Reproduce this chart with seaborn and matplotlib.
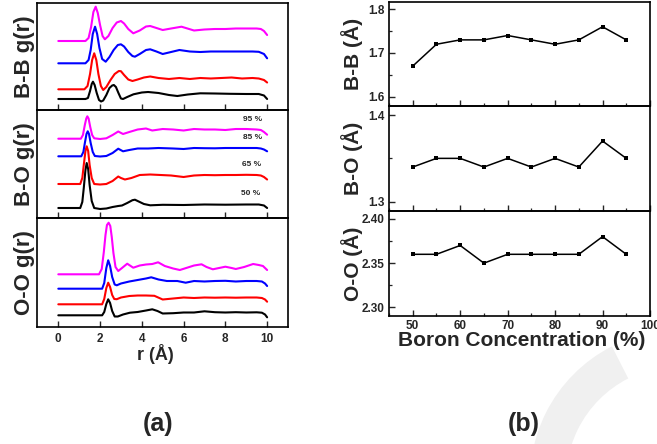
import numpy as np
import pandas as pd
import matplotlib
matplotlib.use("Agg")
import matplotlib.pyplot as plt
import seaborn as sns
from matplotlib.patches import Wedge
from matplotlib.ticker import MultipleLocator, FormatStrFormatter

sns.set_style("ticks")
plt.rcParams["font.family"] = ["Liberation Sans", "DejaVu Sans"]
plt.rcParams["font.weight"] = "bold"
plt.rcParams["axes.labelweight"] = "bold"

# ---------------- (b) nearest-neighbour distances ----------------
conc = [50, 55, 60, 65, 70, 75, 80, 85, 90, 95]
bb_dist = [1.67, 1.72, 1.73, 1.73, 1.74, 1.73, 1.72, 1.73, 1.76, 1.73]
bo_dist = [1.34, 1.35, 1.35, 1.34, 1.35, 1.34, 1.35, 1.34, 1.37, 1.35]
oo_dist = [2.36, 2.36, 2.37, 2.35, 2.36, 2.36, 2.36, 2.36, 2.38, 2.36]

# ---------------- (a) radial distribution functions (stacked) ----------------
series_labels = ["50 %", "65 %", "85 %", "95 %"]
series_colors = ["#000000", "#ff0000", "#0000ff", "#ff00ff"]

# B-B g(r)
bb50_r = [0, 1.30, 1.42, 1.52, 1.60, 1.66, 1.74, 1.84, 1.95, 2.05, 2.15, 2.30, 2.45, 2.58, 2.66, 2.76, 2.88, 3.00,
          3.10, 3.30, 3.60, 4.00, 4.30, 4.80, 5.30, 5.70, 6.20, 6.80, 7.50, 8.20, 9.00, 9.60, 9.85, 10.0]
bb50_g = [1.1, 1.1, 1.2, 1.9, 2.6, 2.83, 2.5, 1.7, 1.0, 0.85, 0.95, 1.5, 2.2, 2.45, 2.5, 2.3, 1.7, 1.15,
          1.1, 1.3, 1.57, 1.75, 1.8, 1.7, 1.5, 1.4, 1.55, 1.67, 1.65, 1.62, 1.6, 1.6, 1.45, 1.1]
bb65_r = [0, 1.25, 1.40, 1.52, 1.62, 1.72, 1.82, 1.92, 2.04, 2.15, 2.30, 2.50, 2.70, 2.90, 3.00, 3.15, 3.35, 3.55,
          3.80, 4.10, 4.40, 4.80, 5.30, 5.80, 6.30, 6.80, 7.30, 7.80, 8.30, 8.80, 9.30, 9.60, 9.85, 10.0]
bb65_g = [2.07, 2.07, 2.4, 3.6, 5.0, 5.67, 5.0, 3.6, 2.4, 2.0, 2.3, 3.0, 3.6, 3.9, 3.88, 3.5, 3.05, 2.9,
          3.05, 3.25, 3.35, 3.2, 3.1, 3.2, 3.1, 3.2, 3.15, 3.2, 3.25, 3.15, 3.2, 3.15, 3.0, 2.75]
bb85_r = [0, 1.30, 1.45, 1.55, 1.65, 1.76, 1.86, 1.97, 2.10, 2.27, 2.45, 2.65, 2.85, 3.00, 3.15, 3.35, 3.55, 3.67,
          3.90, 4.20, 4.40, 4.70, 5.00, 5.30, 5.80, 6.30, 6.80, 7.30, 7.80, 8.30, 8.80, 9.30, 9.60, 9.85, 10.0]
bb85_g = [4.67, 4.67, 5.0, 6.0, 7.6, 8.33, 7.6, 6.2, 5.1, 4.83, 5.3, 6.0, 6.5, 6.57, 6.35, 5.8, 5.4, 5.33,
          5.6, 6.0, 6.07, 5.85, 5.6, 5.75, 6.0, 5.85, 5.8, 5.85, 5.85, 5.85, 5.85, 5.85, 5.82, 5.6, 5.17]
bb95_r = [0, 1.30, 1.45, 1.57, 1.68, 1.79, 1.89, 2.00, 2.12, 2.23, 2.40, 2.60, 2.80, 3.00, 3.15, 3.35, 3.59,
          3.90, 4.20, 4.40, 4.70, 5.00, 5.40, 5.90, 6.50, 7.00, 7.50, 8.00, 8.50, 9.00, 9.50, 9.70, 9.85, 10.0]
bb95_g = [6.9, 6.9, 7.2, 8.3, 9.8, 10.33, 9.7, 8.5, 7.4, 7.07, 7.4, 8.2, 8.75, 8.9, 8.65, 8.1, 7.67,
          7.95, 8.35, 8.4, 8.2, 8.0, 8.15, 8.33, 7.95, 8.05, 8.1, 8.1, 8.15, 8.15, 8.15, 8.1, 7.9, 7.5]

# B-O g(r)
bo50_r = [0, 1.05, 1.15, 1.22, 1.30, 1.36, 1.43, 1.50, 1.60, 1.72, 2.00, 2.30, 2.60, 2.87, 3.05, 3.30, 3.55,
          3.67, 3.85, 4.10, 4.40, 5.00, 6.00, 7.00, 8.00, 9.00, 9.60, 9.85, 10.0]
bo50_g = [1.0, 1.0, 1.6, 3.0, 4.8, 5.5, 4.9, 3.3, 1.7, 1.0, 0.9, 0.95, 1.1, 1.2, 1.25, 1.5, 1.78,
          1.83, 1.65, 1.4, 1.27, 1.32, 1.3, 1.35, 1.33, 1.35, 1.35, 1.25, 1.0]
bo65_r = [0, 1.05, 1.15, 1.22, 1.30, 1.36, 1.43, 1.50, 1.60, 1.72, 2.00, 2.30, 2.60, 2.87, 3.00, 3.19, 3.50,
          3.90, 4.40, 4.90, 5.40, 6.00, 6.50, 7.00, 7.50, 8.00, 8.50, 9.00, 9.50, 9.70, 9.85, 10.0]
bo65_g = [3.4, 3.4, 4.0, 5.3, 6.7, 7.17, 6.7, 5.3, 4.0, 3.4, 3.35, 3.4, 3.7, 4.15, 4.0, 3.85, 4.0,
          4.3, 4.35, 4.3, 4.25, 4.1, 4.25, 4.3, 4.28, 4.3, 4.3, 4.32, 4.3, 4.25, 4.1, 3.85]
bo85_r = [0, 1.10, 1.20, 1.28, 1.35, 1.41, 1.47, 1.55, 1.65, 1.75, 2.00, 2.30, 2.60, 2.87, 3.10, 3.40, 3.80,
          4.30, 4.80, 5.50, 6.00, 6.50, 7.00, 7.50, 8.00, 8.50, 9.00, 9.50, 9.70, 9.85, 10.0]
bo85_g = [6.17, 6.17, 6.6, 7.6, 8.4, 8.67, 8.4, 7.5, 6.6, 6.2, 6.15, 6.2, 6.5, 6.93, 6.67, 6.8, 6.95,
          6.95, 7.0, 6.95, 6.9, 7.0, 6.98, 6.97, 7.0, 7.0, 7.0, 7.0, 6.95, 6.85, 6.67]
bo95_r = [0, 1.08, 1.18, 1.27, 1.34, 1.39, 1.45, 1.53, 1.62, 1.72, 2.00, 2.30, 2.60, 2.87, 3.10, 3.40, 3.80,
          4.20, 4.50, 5.00, 5.50, 6.00, 6.50, 7.00, 7.50, 8.00, 8.50, 9.00, 9.50, 9.70, 9.85, 10.0]
bo95_g = [7.93, 7.93, 8.3, 9.3, 9.95, 10.17, 9.95, 9.1, 8.3, 7.97, 7.9, 7.97, 8.3, 8.65, 8.4, 8.6, 8.85,
          8.95, 8.75, 8.9, 8.85, 8.75, 8.9, 8.85, 8.85, 8.8, 8.9, 8.9, 8.85, 8.8, 8.6, 8.33]

# O-O g(r)
oo50_r = [0, 2.10, 2.20, 2.30, 2.39, 2.48, 2.58, 2.70, 2.85, 3.10, 3.43, 3.80, 4.20, 4.50, 4.75, 5.00, 5.50,
          6.00, 6.50, 7.00, 7.50, 8.00, 8.50, 9.00, 9.50, 9.75, 9.90, 10.0]
oo50_g = [1.17, 1.17, 1.5, 2.3, 2.77, 2.4, 1.6, 1.05, 1.05, 1.25, 1.43, 1.5, 1.65, 1.77, 1.6, 1.35, 1.38,
          1.45, 1.45, 1.57, 1.48, 1.45, 1.48, 1.45, 1.47, 1.43, 1.25, 0.97]
oo65_r = [0, 2.10, 2.20, 2.30, 2.39, 2.48, 2.58, 2.68, 2.80, 3.00, 3.40, 3.80, 4.20, 4.60, 5.00, 5.50, 6.00,
          6.50, 7.00, 7.50, 8.00, 8.50, 9.00, 9.50, 9.75, 9.90, 10.0]
oo65_g = [2.27, 2.27, 2.8, 3.9, 4.43, 4.0, 3.2, 2.8, 2.78, 2.95, 3.1, 3.15, 3.15, 3.12, 2.75, 2.85, 2.95,
          2.9, 2.95, 2.93, 2.95, 2.93, 2.95, 2.95, 2.9, 2.75, 2.53]
oo85_r = [0, 2.10, 2.20, 2.30, 2.39, 2.48, 2.58, 2.70, 2.80, 3.00, 3.40, 3.80, 4.20, 4.45, 4.80, 5.20, 5.70,
          6.10, 6.50, 7.00, 7.50, 8.00, 8.50, 9.00, 9.50, 9.75, 9.90, 10.0]
oo85_g = [3.83, 3.83, 4.4, 5.9, 6.67, 6.1, 5.0, 4.25, 4.17, 4.35, 4.55, 4.7, 4.85, 4.97, 4.75, 4.6, 4.6,
          4.43, 4.6, 4.55, 4.6, 4.62, 4.55, 4.6, 4.6, 4.55, 4.35, 4.1]
oo95_r = [0, 1.95, 2.08, 2.18, 2.26, 2.33, 2.41, 2.49, 2.56, 2.64, 2.74, 2.87, 3.05, 3.30, 3.59, 3.90, 4.20,
          4.50, 4.78, 5.10, 5.50, 5.82, 6.20, 6.50, 6.86, 7.10, 7.40, 7.70, 8.00, 8.30, 8.50, 8.90, 9.33,
          9.60, 9.80, 10.0]
oo95_g = [5.27, 5.27, 5.8, 7.5, 9.2, 10.2, 10.43, 10.1, 9.0, 7.4, 6.0, 5.6, 5.9, 6.33, 5.93, 6.15, 6.25,
          6.3, 6.47, 6.1, 5.85, 5.7, 5.95, 6.15, 6.27, 6.0, 5.77, 5.9, 6.03, 5.9, 5.8, 6.0, 6.3,
          6.2, 6.1, 5.7]

rdf_panels = [
    ("B-B g(r)", [(bb50_r, bb50_g), (bb65_r, bb65_g), (bb85_r, bb85_g), (bb95_r, bb95_g)], 10.7),
    ("B-O g(r)", [(bo50_r, bo50_g), (bo65_r, bo65_g), (bo85_r, bo85_g), (bo95_r, bo95_g)], 10.8),
    ("O-O g(r)", [(oo50_r, oo50_g), (oo65_r, oo65_g), (oo85_r, oo85_g), (oo95_r, oo95_g)], 10.9),
]
# percentage tags written next to the B-O curves (r, height)
tag_pos = [(9.2, 2.07), (9.25, 5.0), (9.3, 7.73), (9.32, 9.5)]

W, H = 657, 444
fig = plt.figure(figsize=(W / 100, H / 100), dpi=100)


def px_axes(x0, y0, x1, y1):
    return fig.add_axes([x0 / W, 1 - y1 / H, (x1 - x0) / W, (y1 - y0) / H])


# faint watermark arc in the lower right corner (display pixels, origin bottom-left)
fig.patches.append(Wedge((680, -36), 150, 117, 190, width=36,
                         transform=None, facecolor="#f0f0f0", edgecolor="none", zorder=0))

# ---------------- panel (a) ----------------
left_boxes = [(37, 3, 288, 110), (37, 110, 288, 218), (37, 218, 288, 327)]
for i, ((ylab, curves, ytop), box) in enumerate(zip(rdf_panels, left_boxes)):
    ax = px_axes(*box)
    ax.set_facecolor("none")
    for (r, g), col in zip(curves, series_colors):
        df = pd.DataFrame({"r": r, "g": g})
        sns.lineplot(data=df, x="r", y="g", ax=ax, color=col, lw=1.5, sort=False, estimator=None)
    ax.set_xlim(-1.02, 11.0)
    ax.set_ylim(0, ytop)
    ax.set_xticks([0, 2, 4, 6, 8, 10])
    ax.set_yticks([])
    ax.tick_params(axis="x", direction="in", length=4, width=1.0, labelsize=8.5, pad=4)
    for s in ax.spines.values():
        s.set_linewidth(1.2)
        s.set_color("black")
    ax.set_ylabel(ylab, fontsize=16, fontweight="bold")
    ax.yaxis.set_label_coords(-0.008, 0.5)
    if i < 2:
        ax.tick_params(axis="x", labelbottom=False)
        ax.set_xlabel("")
    else:
        for t in ax.get_xticklabels():
            t.set_fontweight("bold")
        ax.set_xlabel("r (Å)", fontsize=13, fontweight="bold")
        ax.xaxis.set_label_coords(0.47, -0.16)
    if i == 1:
        for (tx, ty), lab in zip(tag_pos, series_labels):
            ax.text(tx, ty, lab, fontsize=6, fontweight="bold", ha="center", va="bottom")

# ---------------- panel (b) ----------------
dist_panels = [
    ("B-B (Å)", bb_dist, (1.5787, 1.8167), [1.6, 1.7, 1.8], 0.05, "%.1f"),
    ("B-O (Å)", bo_dist, (1.2893, 1.4104), [1.3, 1.4], 0.05, "%.1f"),
    ("O-O (Å)", oo_dist, (2.2902, 2.409), [2.30, 2.35, 2.40], 0.025, "%.2f"),
]
right_boxes = [(389, 2, 650, 106), (389, 106, 650, 211), (389, 211, 650, 316)]
for i, ((ylab, vals, ylim, yt, ymin, fmt), box) in enumerate(zip(dist_panels, right_boxes)):
    ax = px_axes(*box)
    ax.set_facecolor("none")
    df = pd.DataFrame({"c": conc, "d": vals})
    sns.lineplot(data=df, x="c", y="d", ax=ax, color="black", lw=1.1, marker="s",
                 markersize=3.2, markeredgewidth=0, sort=False, estimator=None)
    ax.set_xlim(45, 100)
    ax.set_ylim(*ylim)
    ax.set_xticks([50, 60, 70, 80, 90, 100])
    ax.xaxis.set_minor_locator(MultipleLocator(5))
    ax.set_yticks(yt)
    ax.yaxis.set_minor_locator(MultipleLocator(ymin))
    ax.yaxis.set_major_formatter(FormatStrFormatter(fmt))
    ax.tick_params(which="major", direction="in", length=4, width=1.0, labelsize=8.5, pad=3)
    ax.tick_params(which="minor", direction="in", length=2.2, width=0.9)
    for t in ax.get_yticklabels():
        t.set_fontweight("bold")
    for s in ax.spines.values():
        s.set_linewidth(1.2)
        s.set_color("black")
    ax.set_ylabel(ylab, fontsize=15, fontweight="bold")
    ax.yaxis.set_label_coords(-0.10, 0.5)
    if i < 2:
        ax.tick_params(axis="x", which="both", labelbottom=False)
        ax.set_xlabel("")
    else:
        for t in ax.get_xticklabels():
            t.set_fontweight("bold")
        ax.set_xlabel("Boron Concentration (%)", fontsize=15, fontweight="bold")
        ax.xaxis.set_label_coords(0.51, -0.145)

fig.text(158 / W, 1 - 424 / H, "(a)", fontsize=18, fontweight="bold", ha="center", va="center")
fig.text(524 / W, 1 - 424 / H, "(b)", fontsize=18, fontweight="bold", ha="center", va="center")

fig.savefig("out.png", dpi=100)
